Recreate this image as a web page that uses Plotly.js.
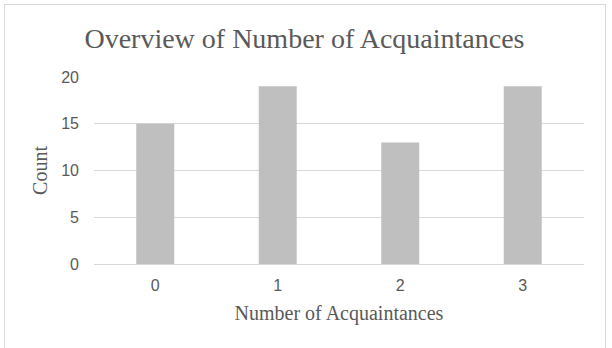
<!DOCTYPE html>
<html><head><meta charset="utf-8">
<script src="https://cdn.plot.ly/plotly-3.0.1.min.js"></script>
<style>
html,body{margin:0;padding:0;background:#fff;overflow:hidden;}
#frame{position:absolute;left:4px;top:4px;width:602px;height:360px;border:1px solid #D9D9D9;box-sizing:border-box;pointer-events:none;z-index:5;}
#chart{position:absolute;left:0;top:0;width:612px;height:348px;}
</style>
</head><body>
<div id="chart"></div>
<div id="frame"></div>
<script>
const categories = ['0', '1', '2', '3'];
const counts = [15, 19, 13, 19];
const yTicks = [0, 5, 10, 15, 20];

const serif = '"Liberation Serif", "Times New Roman", serif';
const sans = '"Liberation Sans", Arial, sans-serif';

const trace = {
  type: 'bar',
  x: categories,
  y: counts,
  marker: {color: '#BFBFBF'},
  width: 0.31,
  hoverinfo: 'none'
};

const layout = {
  width: 612, height: 348,
  margin: {l: 94, r: 28, t: 77, b: 84},
  paper_bgcolor: '#fff', plot_bgcolor: '#fff',
  showlegend: false,
  title: {
    text: 'Overview of Number of Acquaintances',
    font: {family: serif, size: 28, color: '#595959'},
    x: 0.4975, xanchor: 'center', y: 0.89, yanchor: 'middle', xref: 'container', yref: 'container'
  },
  xaxis: {
    type: 'category',
    title: {text: 'Number of Acquaintances', font: {family: serif, size: 20, color: '#595959'}, standoff: 12},
    tickfont: {family: sans, size: 16, color: '#595959'},
    showgrid: false, zeroline: false, showline: true, linecolor: '#D9D9D9', linewidth: 1,
    ticks: '', ticklen: 0, ticklabelstandoff: 7
  },
  yaxis: {
    range: [0, 20],
    tickvals: yTicks,
    ticktext: yTicks.map(String),
    title: {text: 'Count', font: {family: serif, size: 20, color: '#595959'}, standoff: 8},
    tickfont: {family: sans, size: 16, color: '#595959'},
    showgrid: true, gridcolor: '#D9D9D9', gridwidth: 1,
    zeroline: false, showline: false, ticks: '', ticklabelstandoff: 14
  }
};

Plotly.newPlot('chart', [trace], layout, {displayModeBar: false, staticPlot: true});
</script>
</body></html>
